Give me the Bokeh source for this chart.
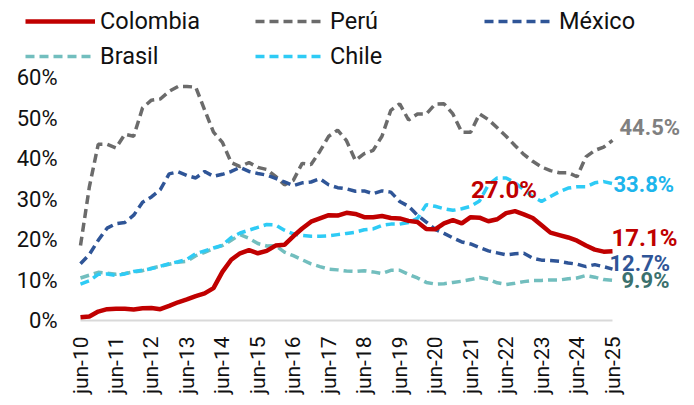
from math import pi
from bokeh.plotting import figure
from bokeh.models import Legend, LegendItem, Label, FixedTicker, Range1d
from bokeh.core.properties import value
from bokeh.embed import file_html
from bokeh.resources import INLINE

# quarterly readings, month index from jun-2010 (0) to jun-2025 (180)
months = list(range(0, 181, 3))

colombia = [0.8, 1.0, 2.2, 2.8, 2.9, 2.9, 2.7, 3.0, 3.1, 2.8,
            3.6, 4.5, 5.2, 6.0, 6.7, 8.0, 12.0, 15.0, 16.6, 17.4,
            16.6, 17.2, 18.5, 18.7, 20.8, 22.7, 24.4, 25.2, 26.0, 25.9,
            26.6, 26.3, 25.5, 25.5, 25.8, 25.3, 25.2, 24.6, 24.3, 22.6,
            22.5, 24.0, 24.8, 24.0, 25.5, 25.4, 24.5, 25.0, 26.5, 27.0,
            26.2, 25.3, 23.5, 21.7, 21.1, 20.5, 19.7, 18.5, 17.5, 17.0,
            17.1]
peru = [18.5, 33.0, 43.5, 43.5, 42.6, 46.0, 45.5, 52.5, 54.4, 54.7,
        56.6, 57.8, 57.8, 57.6, 52.0, 46.5, 44.0, 39.0, 38.0, 39.0,
        37.8, 37.3, 35.6, 33.5, 34.6, 38.8, 38.5, 41.8, 45.5, 47.0,
        44.4, 39.5, 41.2, 42.0, 45.5, 51.9, 53.5, 49.5, 51.0, 51.0,
        53.4, 53.5, 51.0, 46.5, 46.5, 51.0, 49.6, 47.6, 45.5, 43.2,
        41.0, 39.3, 37.9, 37.0, 36.5, 36.5, 35.5, 40.4, 42.0, 42.8,
        44.5]
mexico = [14.0, 16.3, 19.8, 22.8, 23.9, 24.2, 26.0, 29.2, 30.5, 32.3,
          36.2, 36.7, 35.8, 35.2, 36.8, 35.6, 36.1, 36.8, 37.8, 36.8,
          36.3, 35.9, 35.1, 34.2, 33.3, 34.0, 34.2, 35.0, 33.5, 32.8,
          32.5, 31.9, 32.0, 31.3, 32.0, 31.7, 29.4, 28.2, 26.0, 24.3,
          22.5, 21.5, 20.4, 19.4, 18.9, 18.0, 17.2, 16.7, 16.2, 16.5,
          16.6, 15.4, 14.9, 14.8, 14.6, 14.2, 13.9, 13.3, 13.8, 13.3,
          12.7]
brasil = [10.5, 11.2, 11.9, 11.7, 11.4, 11.6, 12.0, 12.3, 12.9, 13.4,
          13.9, 14.4, 14.6, 16.0, 16.8, 17.8, 18.5, 19.8, 21.2, 20.3,
          19.0, 18.4, 18.5, 16.9, 16.0, 15.0, 14.0, 13.3, 12.7, 12.5,
          12.2, 12.1, 12.3, 12.0, 11.6, 12.4, 12.4, 11.4, 10.5, 9.4,
          9.0, 9.1, 9.4, 9.7, 10.1, 10.6, 10.2, 9.3, 8.9, 9.2,
          9.6, 9.9, 9.9, 10.0, 10.0, 10.3, 10.5, 11.1, 10.7, 10.1,
          9.9]
chile = [9.0, 9.8, 11.4, 11.5, 11.1, 11.5, 12.1, 12.4, 12.8, 13.4,
         14.0, 14.5, 15.1, 16.5, 17.2, 17.9, 18.6, 20.5, 21.6, 22.3,
         23.0, 23.7, 23.6, 22.3, 21.4, 21.0, 20.8, 20.8, 20.9, 21.2,
         21.5, 21.8, 22.4, 22.6, 23.5, 23.8, 23.8, 24.2, 25.2, 28.6,
         28.2, 27.6, 27.2, 27.6, 28.2, 29.5, 33.5, 35.2, 35.2, 34.0,
         32.3, 30.6, 29.4, 30.6, 31.8, 32.7, 33.0, 33.0, 34.0, 34.3,
         33.8]

tick_months = [0, 12, 24, 36, 48, 60, 72, 84, 96, 108, 120, 132, 144, 156, 168, 180]
tick_labels = ["jun-10", "jun-11", "jun-12", "jun-13", "jun-14", "jun-15", "jun-16",
               "jun-17", "jun-18", "jun-19", "jun-20", "jun-21", "jun-22", "jun-23",
               "jun-24", "jun-25"]
y_ticks = [0, 10, 20, 30, 40, 50, 60]
y_labels = ["0%", "10%", "20%", "30%", "40%", "50%", "60%"]

C_COL = "#C00000"
C_PER = "#6B6B6B"
C_MEX = "#2F5597"
C_BRA = "#72BEBE"
C_CHI = "#2ECBF5"
FONT = "Roboto"

# layout (pixels inside the figure)
W, H = 694, 405
BOTTOM = 76                 # room for the rotated month labels
FRAME_H = H - BOTTOM
X0_PX, X1_PX = 80, 612      # where first / last month fall
Y60_PX, Y0_PX = 77, 320     # where 60% and 0% fall (from top)
px_per_month = (X1_PX - X0_PX) / (months[-1] - months[0])
px_per_pct = (Y0_PX - Y60_PX) / (y_ticks[-1] - y_ticks[0])
x_rng = Range1d(months[0] - X0_PX / px_per_month, months[-1] + (W - X1_PX) / px_per_month)
y_rng = Range1d(y_ticks[0] - (FRAME_H - Y0_PX) / px_per_pct, y_ticks[0] + Y0_PX / px_per_pct)

p = figure(width=W, height=H, x_range=x_rng, y_range=y_rng, y_axis_location=None,
           min_border_left=0, min_border_right=0, min_border_top=0, min_border_bottom=BOTTOM,
           output_backend="svg", toolbar_location=None)
p.outline_line_color = None
p.xgrid.visible = False
p.ygrid.visible = False
p.background_fill_color = "white"

# baseline at 0%
p.line([months[0], months[-1]], [y_ticks[0], y_ticks[0]], line_color="#D9D9D9", line_width=2)

dash = "9 5"
r_per = p.line(months, peru, line_color=C_PER, line_width=3.5, line_dash=dash)
r_mex = p.line(months, mexico, line_color=C_MEX, line_width=3.5, line_dash=dash)
r_bra = p.line(months, brasil, line_color=C_BRA, line_width=3.5, line_dash=dash)
r_chi = p.line(months, chile, line_color=C_CHI, line_width=3.5, line_dash=dash)
r_col = p.line(months, colombia, line_color=C_COL, line_width=4.5)

# y tick labels
p.text(x=[months[0]] * len(y_ticks), y=y_ticks, text=y_labels, x_offset=-23,
       text_align="right", text_baseline="middle", text_font=value(FONT),
       text_font_size="22px", text_color="#111111")

# x axis (sits just under the 0% baseline)
xa = p.xaxis[0]
xa.ticker = FixedTicker(ticks=tick_months)
xa.major_label_overrides = {m: t for m, t in zip(tick_months, tick_labels)}
xa.major_label_orientation = pi / 2
xa.major_label_text_font = FONT
xa.major_label_text_font_size = "21px"
xa.major_label_text_color = "#111111"
xa.major_tick_line_color = None
xa.major_tick_out = 0
xa.major_tick_in = 0
xa.minor_tick_line_color = None
xa.minor_tick_out = 0
xa.minor_tick_in = 0
xa.major_label_standoff = 7
xa.axis_line_color = None

# legends (one per entry)
def add_leg(label, r, x, y):
    leg = Legend(items=[LegendItem(label=label, renderers=[r])], location=(x, y),
                 glyph_width=70, glyph_height=26, label_height=26, label_standoff=5,
                 label_text_font=FONT, label_text_font_size="23.5px", label_text_color="#111111",
                 padding=0, margin=0, spacing=0, border_line_color=None,
                 background_fill_alpha=0)
    p.add_layout(leg)

ROW1 = FRAME_H - 22 - 13
ROW2 = FRAME_H - 57 - 13
add_leg("Colombia", r_col, 25, ROW1)
add_leg("Perú", r_per, 255, ROW1)
add_leg("México", r_mex, 484, ROW1)
add_leg("Brasil", r_bra, 25, ROW2)
add_leg("Chile", r_chi, 255, ROW2)

# value labels
def add_lab(text, x, y, dx, dy, color, size, align="left"):
    p.add_layout(Label(x=x, y=y, x_offset=dx, y_offset=dy, text=text, text_color=color,
                       text_font=FONT, text_font_size=size, text_font_style="bold",
                       text_align=align, text_baseline="middle"))

last = months[-1]
add_lab("44.5%", last, peru[-1], 7, 13, "#808080", "22px")
add_lab("33.8%", last, chile[-1], 1, -1, "#1DB5EC", "22px")
add_lab("17.1%", last, colombia[-1], -1, 13, C_COL, "24px")
add_lab("12.7%", last, mexico[-1], -3, 6, C_MEX, "22px")
add_lab("9.9%", last, brasil[-1], 9, 0, "#3B716E", "22px")
pk = colombia.index(max(colombia))
add_lab("27.0%", months[pk], colombia[pk], -11, 21, C_COL, "24px", align="center")

open("out.html", "w").write(file_html(p, INLINE))
